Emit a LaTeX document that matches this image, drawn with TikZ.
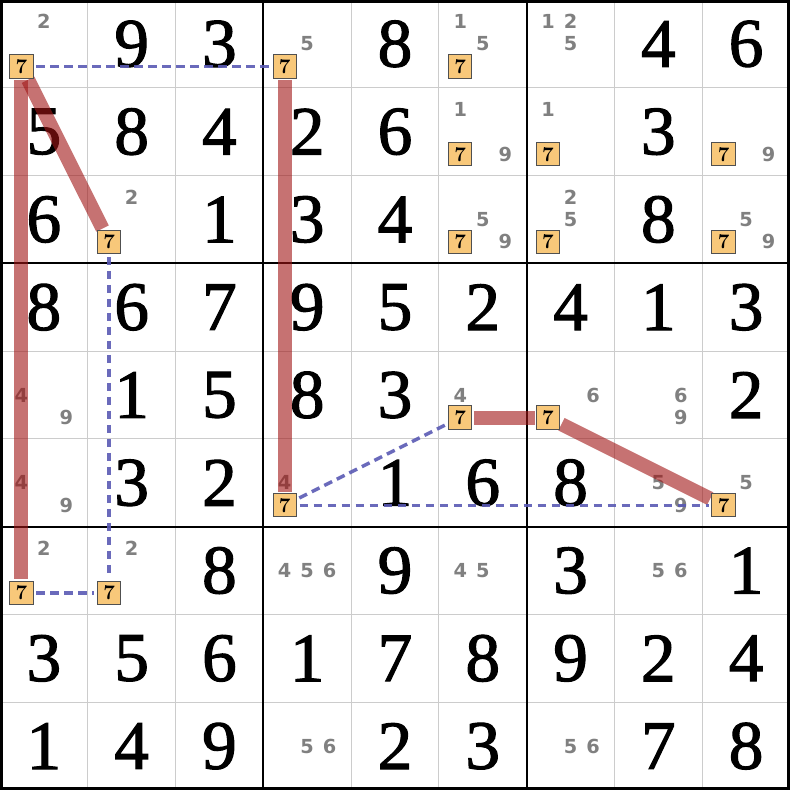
\documentclass[tikz,border=0pt]{standalone}
\usepackage{fontspec}
\newfontfamily\givenfont[FakeBold=1.6]{Liberation Serif}
\newfontfamily\candfont{DejaVu Sans}
\definecolor{gridgray}{RGB}{204,204,204}
\definecolor{candgray}{RGB}{128,128,128}
\definecolor{sevenfill}{RGB}{248,200,122}
\definecolor{boxedge}{RGB}{80,80,80}
\definecolor{linkred}{RGB}{160,20,20}
\definecolor{linkblue}{RGB}{90,90,180}
\pgfdeclarelayer{front}
\pgfsetlayers{main,front}
\begin{document}
\begin{tikzpicture}[x=0.75pt,y=0.75pt,yscale=-1,xscale=1,
  given/.style={font=\givenfont\fontsize{52}{52}\selectfont},
  cand/.style={text=candgray,font=\candfont\bfseries\fontsize{14.5}{14.5}\selectfont},
  seven/.style={draw=boxedge,fill=sevenfill,line width=0.75pt,minimum size=17.5pt,inner sep=0pt,font=\bfseries\fontsize{15.5}{15.5}\selectfont},
  strong/.style={draw=linkred,draw opacity=0.6,line width=10.5pt,shorten <=1pt,shorten >=1pt},
  weak/.style={draw=linkblue,draw opacity=0.9,line width=2.6pt,dash pattern=on 6.5pt off 4pt,shorten <=2pt,shorten >=2pt}]
\useasboundingbox (0,0) rectangle (790,790);

%Straight Lines (thin grid)
\draw [gridgray,line width=0.75pt] (87.78,0) -- (87.78,790) ;
\draw [gridgray,line width=0.75pt] (175.56,0) -- (175.56,790) ;
\draw [gridgray,line width=0.75pt] (351.11,0) -- (351.11,790) ;
\draw [gridgray,line width=0.75pt] (438.89,0) -- (438.89,790) ;
\draw [gridgray,line width=0.75pt] (614.44,0) -- (614.44,790) ;
\draw [gridgray,line width=0.75pt] (702.22,0) -- (702.22,790) ;
\draw [gridgray,line width=0.75pt] (0,87.78) -- (790,87.78) ;
\draw [gridgray,line width=0.75pt] (0,175.56) -- (790,175.56) ;
\draw [gridgray,line width=0.75pt] (0,351.11) -- (790,351.11) ;
\draw [gridgray,line width=0.75pt] (0,438.89) -- (790,438.89) ;
\draw [gridgray,line width=0.75pt] (0,614.44) -- (790,614.44) ;
\draw [gridgray,line width=0.75pt] (0,702.22) -- (790,702.22) ;
%Straight Lines (box borders)
\draw [line width=1.5pt] (263.33,0) -- (263.33,790) ;
\draw [line width=1.5pt] (526.67,0) -- (526.67,790) ;
\draw [line width=1.5pt] (0,263.33) -- (790,263.33) ;
\draw [line width=1.5pt] (0,526.67) -- (790,526.67) ;
%Shape: Rectangle
\draw [line width=4.5pt] (0,0) -- (790,0) -- (790,790) -- (0,790) -- cycle ;

% Text Node (row 1)
\node [given] (g12) at (131.67,43.89) {9};
\node [given] (g13) at (219.44,43.89) {3};
\node [given] (g15) at (395.00,43.89) {8};
\node [given] (g18) at (658.33,43.89) {4};
\node [given] (g19) at (746.11,43.89) {6};
% Text Node (row 2)
\node [given] (g21) at (43.89,131.67) {5};
\node [given] (g22) at (131.67,131.67) {8};
\node [given] (g23) at (219.44,131.67) {4};
\node [given] (g24) at (307.22,131.67) {2};
\node [given] (g25) at (395.00,131.67) {6};
\node [given] (g28) at (658.33,131.67) {3};
% Text Node (row 3)
\node [given] (g31) at (43.89,219.44) {6};
\node [given] (g33) at (219.44,219.44) {1};
\node [given] (g34) at (307.22,219.44) {3};
\node [given] (g35) at (395.00,219.44) {4};
\node [given] (g38) at (658.33,219.44) {8};
% Text Node (row 4)
\node [given] (g41) at (43.89,307.22) {8};
\node [given] (g42) at (131.67,307.22) {6};
\node [given] (g43) at (219.44,307.22) {7};
\node [given] (g44) at (307.22,307.22) {9};
\node [given] (g45) at (395.00,307.22) {5};
\node [given] (g46) at (482.78,307.22) {2};
\node [given] (g47) at (570.56,307.22) {4};
\node [given] (g48) at (658.33,307.22) {1};
\node [given] (g49) at (746.11,307.22) {3};
% Text Node (row 5)
\node [given] (g52) at (131.67,395.00) {1};
\node [given] (g53) at (219.44,395.00) {5};
\node [given] (g54) at (307.22,395.00) {8};
\node [given] (g55) at (395.00,395.00) {3};
\node [given] (g59) at (746.11,395.00) {2};
% Text Node (row 6)
\node [given] (g62) at (131.67,482.78) {3};
\node [given] (g63) at (219.44,482.78) {2};
\node [given] (g65) at (395.00,482.78) {1};
\node [given] (g66) at (482.78,482.78) {6};
\node [given] (g67) at (570.56,482.78) {8};
% Text Node (row 7)
\node [given] (g73) at (219.44,570.56) {8};
\node [given] (g75) at (395.00,570.56) {9};
\node [given] (g77) at (570.56,570.56) {3};
\node [given] (g79) at (746.11,570.56) {1};
% Text Node (row 8)
\node [given] (g81) at (43.89,658.33) {3};
\node [given] (g82) at (131.67,658.33) {5};
\node [given] (g83) at (219.44,658.33) {6};
\node [given] (g84) at (307.22,658.33) {1};
\node [given] (g85) at (395.00,658.33) {7};
\node [given] (g86) at (482.78,658.33) {8};
\node [given] (g87) at (570.56,658.33) {9};
\node [given] (g88) at (658.33,658.33) {2};
\node [given] (g89) at (746.11,658.33) {4};
% Text Node (row 9)
\node [given] (g91) at (43.89,746.11) {1};
\node [given] (g92) at (131.67,746.11) {4};
\node [given] (g93) at (219.44,746.11) {9};
\node [given] (g95) at (395.00,746.11) {2};
\node [given] (g96) at (482.78,746.11) {3};
\node [given] (g98) at (658.33,746.11) {7};
\node [given] (g99) at (746.11,746.11) {8};

% Text Node (candidates)
\node [cand] (k112) at (43.89,21.39) {2};
\node [cand] (k145) at (307.22,43.89) {5};
\node [cand] (k161) at (460.28,21.39) {1};
\node [cand] (k165) at (482.78,43.89) {5};
\node [cand] (k171) at (548.06,21.39) {1};
\node [cand] (k172) at (570.56,21.39) {2};
\node [cand] (k175) at (570.56,43.89) {5};
\node [cand] (k261) at (460.28,109.17) {1};
\node [cand] (k269) at (505.28,154.17) {9};
\node [cand] (k271) at (548.06,109.17) {1};
\node [cand] (k299) at (768.61,154.17) {9};
\node [cand] (k322) at (131.67,196.94) {2};
\node [cand] (k365) at (482.78,219.44) {5};
\node [cand] (k369) at (505.28,241.94) {9};
\node [cand] (k372) at (570.56,196.94) {2};
\node [cand] (k375) at (570.56,219.44) {5};
\node [cand] (k395) at (746.11,219.44) {5};
\node [cand] (k399) at (768.61,241.94) {9};
\node [cand] (k514) at (21.39,395.00) {4};
\node [cand] (k519) at (66.39,417.50) {9};
\node [cand] (k564) at (460.28,395.00) {4};
\node [cand] (k576) at (593.06,395.00) {6};
\node [cand] (k586) at (680.83,395.00) {6};
\node [cand] (k589) at (680.83,417.50) {9};
\node [cand] (k614) at (21.39,482.78) {4};
\node [cand] (k619) at (66.39,505.28) {9};
\node [cand] (k644) at (284.72,482.78) {4};
\node [cand] (k685) at (658.33,482.78) {5};
\node [cand] (k689) at (680.83,505.28) {9};
\node [cand] (k695) at (746.11,482.78) {5};
\node [cand] (k712) at (43.89,548.06) {2};
\node [cand] (k722) at (131.67,548.06) {2};
\node [cand] (k744) at (284.72,570.56) {4};
\node [cand] (k745) at (307.22,570.56) {5};
\node [cand] (k746) at (329.72,570.56) {6};
\node [cand] (k764) at (460.28,570.56) {4};
\node [cand] (k765) at (482.78,570.56) {5};
\node [cand] (k785) at (658.33,570.56) {5};
\node [cand] (k786) at (680.83,570.56) {6};
\node [cand] (k945) at (307.22,746.11) {5};
\node [cand] (k946) at (329.72,746.11) {6};
\node [cand] (k975) at (570.56,746.11) {5};
\node [cand] (k976) at (593.06,746.11) {6};

% Boxed sevens
\begin{pgfonlayer}{front}
\node [seven] (p11) at (21.39,66.39) {7};
\node [seven] (p14) at (284.72,66.39) {7};
\node [seven] (p16) at (460.28,66.39) {7};
\node [seven] (p26) at (460.28,154.17) {7};
\node [seven] (p27) at (548.06,154.17) {7};
\node [seven] (p29) at (723.61,154.17) {7};
\node [seven] (p32) at (109.17,241.94) {7};
\node [seven] (p36) at (460.28,241.94) {7};
\node [seven] (p37) at (548.06,241.94) {7};
\node [seven] (p39) at (723.61,241.94) {7};
\node [seven] (p56) at (460.28,417.50) {7};
\node [seven] (p57) at (548.06,417.50) {7};
\node [seven] (p64) at (284.72,505.28) {7};
\node [seven] (p69) at (723.61,505.28) {7};
\node [seven] (p71) at (21.39,592.78) {7};
\node [seven] (p72) at (109.17,592.78) {7};
\end{pgfonlayer}

%Straight Lines (strong links)
\draw [strong] (p11) -- (p71) ;
\draw [strong] (p11) -- (p32) ;
\draw [strong] (p14) -- (p64) ;
\draw [strong] (p56) -- (p57) ;
\draw [strong] (p57) -- (p69) ;
%Straight Lines (weak links)
\draw [weak] (p11) -- (p14) ;
\draw [weak] (p32) -- (p72) ;
\draw [weak] (p71) -- (p72) ;
\draw [weak] (p64) -- (p56) ;
\draw [weak] (p64) -- (p69) ;

\end{tikzpicture}
\end{document}
